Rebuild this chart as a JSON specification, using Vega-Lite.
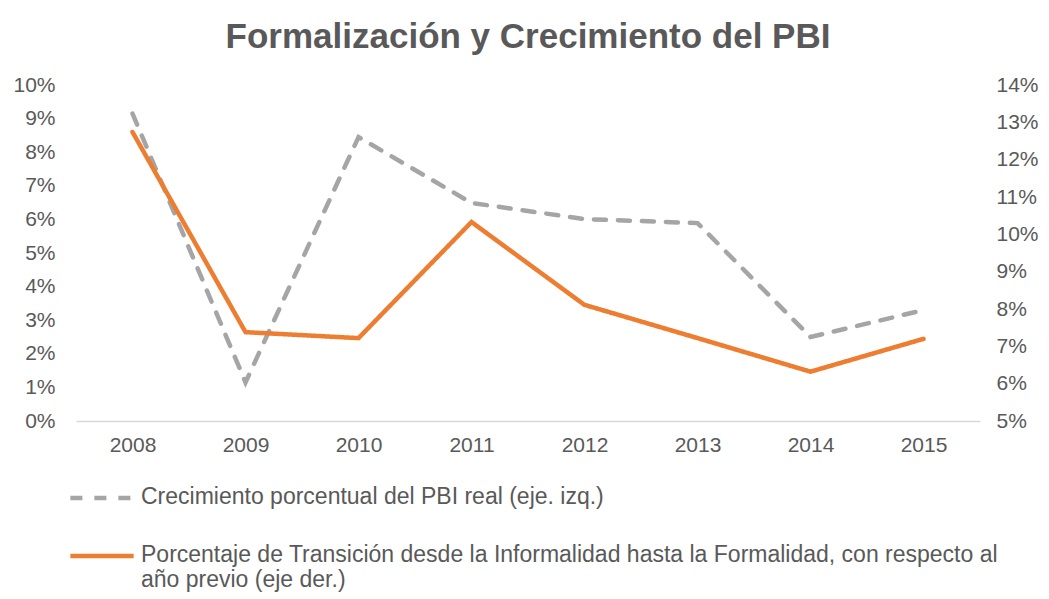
{
  "$schema": "https://vega.github.io/schema/vega-lite/v6.json",
  "autosize": {"type": "none"},
  "width": 904,
  "height": 336,
  "padding": {"left": 76, "top": 85, "right": 69, "bottom": 178},
  "background": "white",
  "title": {
    "text": "Formalización y Crecimiento del PBI",
    "anchor": "middle",
    "frame": "group",
    "font": "Liberation Sans",
    "fontSize": 35,
    "fontWeight": "bold",
    "color": "#595959",
    "offset": 19
  },
  "config": {
    "view": {"stroke": null},
    "font": "Liberation Sans",
    "axis": {
      "labelFont": "Liberation Sans",
      "labelFontSize": 21,
      "labelColor": "#595959",
      "grid": false,
      "ticks": false,
      "domain": false,
      "title": null
    },
    "legend": {
      "labelFont": "Liberation Sans",
      "labelFontSize": 23,
      "labelColor": "#595959"
    }
  },
  "data": {
    "values": [
      {"year": "2008", "serie": "Crecimiento porcentual del PBI real (eje. izq.)", "value": 0.0915},
      {"year": "2009", "serie": "Crecimiento porcentual del PBI real (eje. izq.)", "value": 0.0115},
      {"year": "2010", "serie": "Crecimiento porcentual del PBI real (eje. izq.)", "value": 0.0845},
      {"year": "2011", "serie": "Crecimiento porcentual del PBI real (eje. izq.)", "value": 0.0649},
      {"year": "2012", "serie": "Crecimiento porcentual del PBI real (eje. izq.)", "value": 0.0601},
      {"year": "2013", "serie": "Crecimiento porcentual del PBI real (eje. izq.)", "value": 0.0589},
      {"year": "2014", "serie": "Crecimiento porcentual del PBI real (eje. izq.)", "value": 0.025},
      {"year": "2015", "serie": "Crecimiento porcentual del PBI real (eje. izq.)", "value": 0.033},
      {"year": "2008", "serie": "Porcentaje de Transición desde la Informalidad hasta la Formalidad, con respecto al año previo (eje der.)", "value": 0.1274},
      {"year": "2009", "serie": "Porcentaje de Transición desde la Informalidad hasta la Formalidad, con respecto al año previo (eje der.)", "value": 0.0738},
      {"year": "2010", "serie": "Porcentaje de Transición desde la Informalidad hasta la Formalidad, con respecto al año previo (eje der.)", "value": 0.0722},
      {"year": "2011", "serie": "Porcentaje de Transición desde la Informalidad hasta la Formalidad, con respecto al año previo (eje der.)", "value": 0.1033},
      {"year": "2012", "serie": "Porcentaje de Transición desde la Informalidad hasta la Formalidad, con respecto al año previo (eje der.)", "value": 0.0811},
      {"year": "2013", "serie": "Porcentaje de Transición desde la Informalidad hasta la Formalidad, con respecto al año previo (eje der.)", "value": 0.0722},
      {"year": "2014", "serie": "Porcentaje de Transición desde la Informalidad hasta la Formalidad, con respecto al año previo (eje der.)", "value": 0.0632},
      {"year": "2015", "serie": "Porcentaje de Transición desde la Informalidad hasta la Formalidad, con respecto al año previo (eje der.)", "value": 0.072}
    ]
  },
  "encoding": {
    "x": {
      "field": "year",
      "type": "ordinal",
      "axis": {
        "labelAngle": 0,
        "domain": true,
        "domainColor": "#D9D9D9",
        "domainWidth": 1.5,
        "labelPadding": 13
      }
    },
    "color": {
      "field": "serie",
      "type": "nominal",
      "scale": {
        "domain": [
          "Crecimiento porcentual del PBI real (eje. izq.)",
          "Porcentaje de Transición desde la Informalidad hasta la Formalidad, con respecto al año previo (eje der.)"
        ],
        "range": ["#A5A5A5", "#ED7D31"]
      },
      "legend": {
        "title": null,
        "orient": "none",
        "legendX": -8,
        "legendY": 379,
        "direction": "vertical",
        "symbolType": "stroke",
        "symbolSize": 4000,
        "symbolStrokeWidth": 4.5,
        "labelOffset": 5,
        "labelLimit": 1000,
        "rowPadding": 13,
        "labelExpr": "indexof(datum.label, ' año previo') > 0 ? [substring(datum.label, 0, indexof(datum.label, ' año previo')), substring(datum.label, indexof(datum.label, ' año previo') + 1)] : datum.label",
        "encode": {
          "labels": {"update": {"lineHeight": {"value": 25}, "baseline": {"value": "top"}, "dy": {"value": -12}}}
        }
      }
    },
    "strokeDash": {
      "field": "serie",
      "type": "nominal",
      "scale": {
        "domain": [
          "Crecimiento porcentual del PBI real (eje. izq.)",
          "Porcentaje de Transición desde la Informalidad hasta la Formalidad, con respecto al año previo (eje der.)"
        ],
        "range": [[12, 12], [1, 0]]
      },
      "legend": null
    }
  },
  "layer": [
    {
      "transform": [{"filter": "datum.serie == 'Crecimiento porcentual del PBI real (eje. izq.)'"}],
      "mark": {"type": "line", "strokeWidth": 4.5, "strokeCap": "round"},
      "encoding": {
        "y": {
          "field": "value",
          "type": "quantitative",
          "scale": {"domain": [0, 0.1], "nice": false, "zero": false},
          "axis": {
            "orient": "left",
            "values": [0, 0.01, 0.02, 0.03, 0.04, 0.05, 0.06, 0.07, 0.08, 0.09, 0.1],
            "format": ".0%",
            "labelPadding": 21
          }
        }
      }
    },
    {
      "transform": [{"filter": "datum.serie != 'Crecimiento porcentual del PBI real (eje. izq.)'"}],
      "mark": {"type": "line", "strokeWidth": 4.5, "strokeCap": "round"},
      "encoding": {
        "y": {
          "field": "value",
          "type": "quantitative",
          "scale": {"domain": [0.05, 0.14], "nice": false, "zero": false},
          "axis": {
            "orient": "right",
            "values": [0.05, 0.06, 0.07, 0.08, 0.09, 0.1, 0.11, 0.12, 0.13, 0.14],
            "format": ".0%",
            "labelPadding": 16
          }
        }
      }
    }
  ],
  "resolve": {"scale": {"y": "independent"}}
}
